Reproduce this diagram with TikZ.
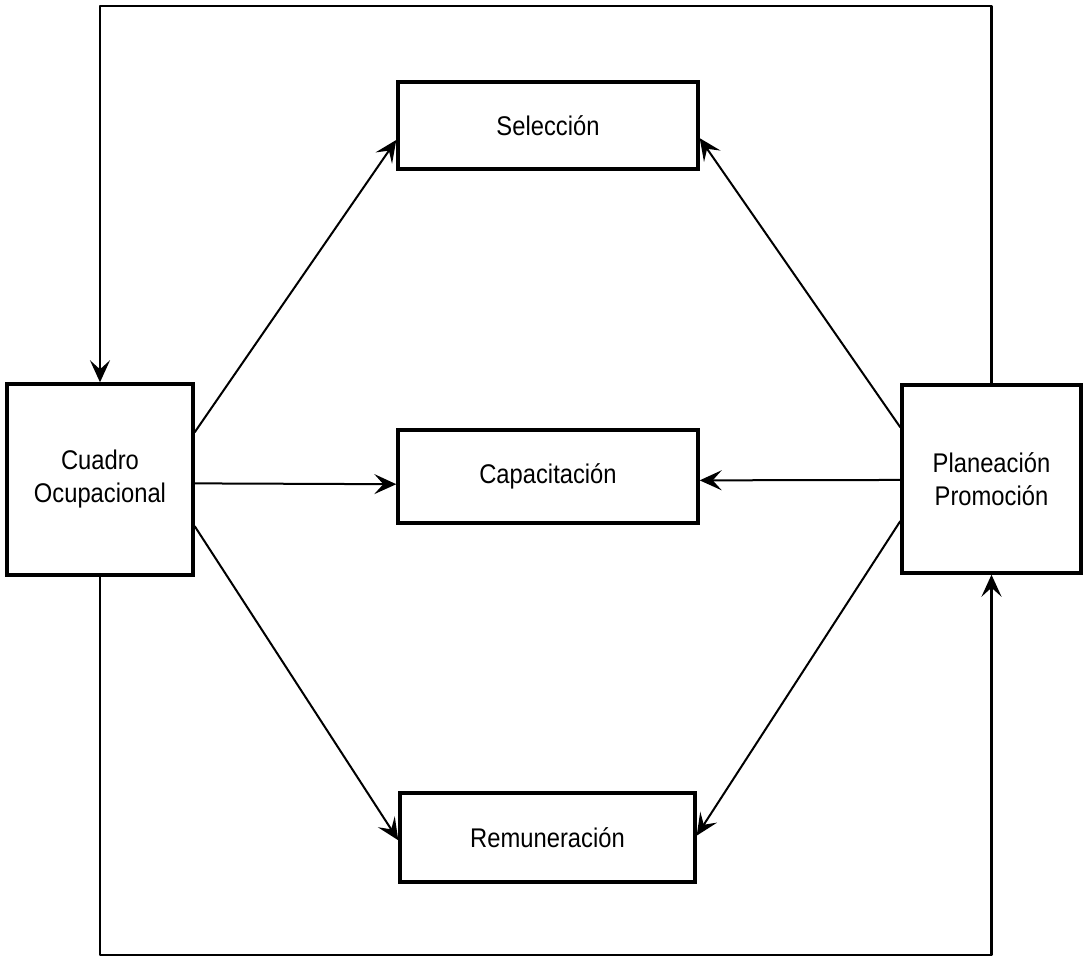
\documentclass[tikz,border=0pt]{standalone}
\usepackage{fontspec}
\setmainfont{Liberation Sans}[FakeStretch=0.88]
\usetikzlibrary{arrows.meta,calc}
\begin{document}
\begin{tikzpicture}[x=0.5pt,y=-0.5pt,
  box/.style={draw, line width=1.7pt, inner sep=0pt, align=center,
    font=\fontsize{13.5}{16.5}\selectfont},
  tip/.style={-{Stealth[length=11pt,width=10pt,inset=4.5pt]}},
  link/.style={line width=1pt, tip},
  loopline/.style={line width=1.4pt, line join=round, tip}]
\useasboundingbox (0,0) rectangle (1083,957);

% boxes
\node[box, minimum width=93pt, minimum height=95.5pt] (cuadro) at (100,479.5) {Cuadro\\Ocupacional};
\node[box, minimum width=89.5pt, minimum height=94pt] (plan) at (991.5,479) {Planeación\\Promoción};
\node[box, minimum width=150pt, minimum height=43.5pt] (sel) at (548,125.5) {Selección};
\node[box, minimum width=150pt, minimum height=46.5pt] (cap) at (548,476.5) {Capacitación};
\node[box, minimum width=147.5pt, minimum height=44.5pt] (rem) at (547.5,837.5) {Remuneración};

% outer feedback loops
\coordinate (topline) at (0,6);
\coordinate (botline) at (0,955);
\draw[loopline] (plan.north) -- (plan.north |- topline) -- (cuadro.north |- topline) -- (cuadro.north);
\draw[loopline] (cuadro.south) -- (cuadro.south |- botline) -- (plan.south |- botline) -- (plan.south);

% connectors from Cuadro Ocupacional
\draw[link] ($(cuadro.north east)!0.257!(cuadro.south east)$) -- ($(sel.north west)!0.66!(sel.south west)$);
\draw[link] ($(cuadro.north east)!0.52!(cuadro.south east)$) -- ($(cap.north west)!0.58!(cap.south west)$);
\draw[link] ($(cuadro.north east)!0.74!(cuadro.south east)$) -- ($(rem.north west)!0.53!(rem.south west)$);

% connectors from Planeación / Promoción
\draw[link] ($(plan.north west)!0.23!(plan.south west)$) -- ($(sel.north east)!0.64!(sel.south east)$);
\draw[link] ($(plan.north west)!0.505!(plan.south west)$) -- ($(cap.north east)!0.54!(cap.south east)$);
\draw[link] ($(plan.north west)!0.72!(plan.south west)$) -- ($(rem.north east)!0.48!(rem.south east)$);
\end{tikzpicture}
\end{document}
